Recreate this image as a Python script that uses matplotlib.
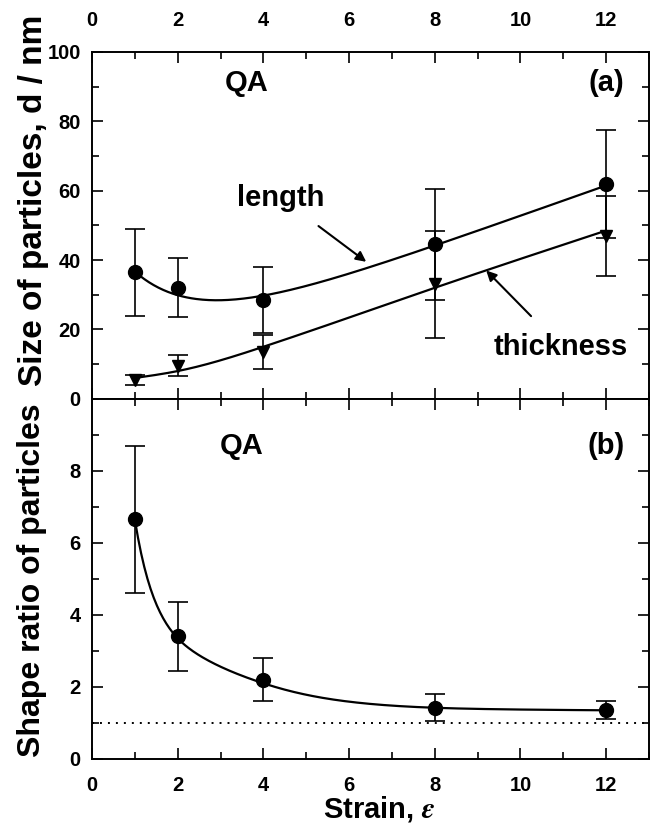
import numpy as np
import matplotlib
matplotlib.use("Agg")
import matplotlib.pyplot as plt
from matplotlib.ticker import MultipleLocator

plt.rcParams['font.family'] = ['Liberation Sans', 'DejaVu Sans']
plt.rcParams['font.weight'] = 'bold'
plt.rcParams['axes.labelweight'] = 'bold'
plt.rcParams['mathtext.fontset'] = 'stix'

# data
strain = [1, 2, 4, 8, 12]
length = [36.5, 32, 28.5, 44.5, 62]
length_err = [12.5, 8.5, 9.5, 16, 15.5]
thickness = [5.5, 9.5, 13.5, 33, 47]
thickness_err = [1.5, 3, 5, 15.5, 11.5]
ratio = [6.65, 3.4, 2.2, 1.42, 1.35]
ratio_err = [2.05, 0.95, 0.6, 0.38, 0.25]

# values of the guide curves at the strain nodes
length_fit = [36.0, 31.5, 28.5, 44.5, 61.5]
thickness_fit = [6.0, 8.0, 15.0, 32.0, 48.5]
ratio_fit = [6.65, 3.35, 2.1, 1.42, 1.35]


def natural_spline(x, y, xs):
    """Natural cubic spline through (x, y), evaluated at xs"""
    order = np.argsort(x)
    x = np.asarray(x, float)[order]
    y = np.asarray(y, float)[order]
    n = len(x)
    h = np.diff(x)
    A = np.zeros((n, n))
    b = np.zeros(n)
    A[0, 0] = A[-1, -1] = 1
    for i in range(1, n - 1):
        A[i, i - 1] = h[i - 1]
        A[i, i] = 2 * (h[i - 1] + h[i])
        A[i, i + 1] = h[i]
        b[i] = 6 * ((y[i + 1] - y[i]) / h[i] - (y[i] - y[i - 1]) / h[i - 1])
    M = np.linalg.solve(A, b)
    out = np.empty_like(xs)
    for k, xv in enumerate(xs):
        i = min(max(np.searchsorted(x, xv) - 1, 0), n - 2)
        t1 = x[i + 1] - xv
        t0 = xv - x[i]
        out[k] = (M[i] * t1**3 + M[i + 1] * t0**3) / (6 * h[i]) \
            + (y[i] / h[i] - M[i] * h[i] / 6) * t1 \
            + (y[i + 1] / h[i] - M[i + 1] * h[i] / 6) * t0
    return out


def linear_plus_decay(x, y, xs, k=0.65):
    """Least squares fit y = a + b*x + c*exp(-k*x)"""
    x = np.asarray(x, float)
    basis = lambda t: np.column_stack([np.ones_like(t), t, np.exp(-k * t)])
    coef, *_ = np.linalg.lstsq(basis(x), np.asarray(y, float), rcond=None)
    return basis(xs) @ coef


fig = plt.figure(figsize=(6.5, 8.24), dpi=100)
ax1 = fig.add_axes([0.1415, 0.516, 0.857, 0.421])
ax2 = fig.add_axes([0.1415, 0.079, 0.857, 0.437])

xs = np.linspace(1, 12, 300)
eb = dict(color='k', capsize=7, elinewidth=1.2, capthick=1.2)

# (a) size of particles
ax1.plot(xs, linear_plus_decay(strain, length_fit, xs), color='k', lw=1.6)
ax1.plot(xs, natural_spline(strain, thickness_fit, xs), color='k', lw=1.6)
ax1.errorbar(strain, length, yerr=length_err, fmt='o', ms=10, **eb)
ax1.errorbar(strain, thickness, yerr=thickness_err, fmt='v', ms=9, **eb)
ax1.set_xlim(0, 13)
ax1.set_ylim(0, 100)
ax1.set_ylabel('Size of particles, d / nm', fontsize=24)
ax1.yaxis.set_label_coords(-0.077, 0.573)
ax1.text(3.6, 91, 'QA', fontsize=21, ha='center', va='center')
ax1.text(12.0, 91, '(a)', fontsize=21, ha='center', va='center')
ax1.annotate('length', xy=(6.4, 39.5), xytext=(4.4, 58), fontsize=21,
             ha='center', va='center',
             arrowprops=dict(arrowstyle='-|>', color='k', lw=1.5,
                             shrinkA=14, shrinkB=0, mutation_scale=15))
ax1.annotate('thickness', xy=(9.2, 37), xytext=(10.95, 15), fontsize=21,
             ha='center', va='center',
             arrowprops=dict(arrowstyle='-|>', color='k', lw=1.5,
                             shrinkA=14, shrinkB=0, mutation_scale=15))

# (b) shape ratio, curve drawn in 1/strain
us = 1.0 / xs
ax2.plot(xs, natural_spline(1.0 / np.asarray(strain, float), ratio_fit, us),
         color='k', lw=1.6)
ax2.errorbar(strain, ratio, yerr=ratio_err, fmt='o', ms=10, **eb)
ax2.axhline(1.0, color='k', ls=(0, (1, 3.1)), lw=1.4)
ax2.set_xlim(0, 13)
ax2.set_ylim(0, 10)
ax2.set_ylabel('Shape ratio of particles', fontsize=23)
ax2.yaxis.set_label_coords(-0.081, 0.497)
ax2.set_xlabel(r'Strain, $\varepsilon$', fontsize=21)
ax2.xaxis.set_label_coords(0.515, -0.097)
ax2.text(3.5, 8.7, 'QA', fontsize=21, ha='center', va='center')
ax2.text(12.0, 8.7, '(b)', fontsize=21, ha='center', va='center')
ax2.set_yticks([0, 2, 4, 6, 8])

for ax in (ax1, ax2):
    ax.xaxis.set_major_locator(MultipleLocator(2))
    ax.xaxis.set_minor_locator(MultipleLocator(1))
    ax.tick_params(which='both', direction='in', top=True, right=True,
                   labelsize=14.5, width=1.2)
    ax.tick_params(which='major', length=8)
    ax.tick_params(which='minor', length=5)
    ax.tick_params(axis='y', pad=8)
    ax.tick_params(axis='x', pad=12)
    for s in ax.spines.values():
        s.set_linewidth(1.4)

ax1.yaxis.set_major_locator(MultipleLocator(20))
ax1.yaxis.set_minor_locator(MultipleLocator(10))
ax2.yaxis.set_minor_locator(MultipleLocator(1))
ax1.tick_params(axis='x', labelbottom=False, labeltop=True, pad=16)

fig.savefig('out.png', dpi=100)
